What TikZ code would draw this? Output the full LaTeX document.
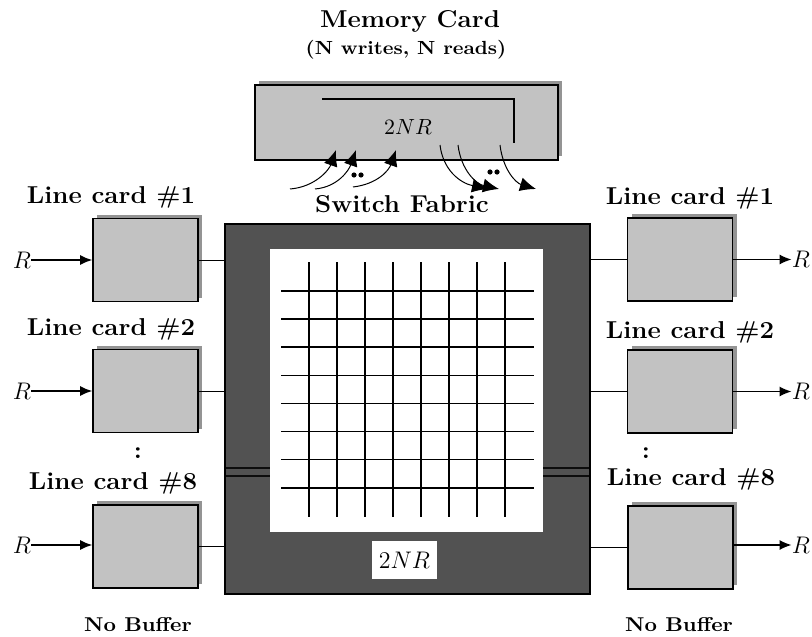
\documentclass[tikz,border=0pt]{standalone}
\usetikzlibrary{arrows.meta,shadows}
\begin{document}
\begin{tikzpicture}[x=0.5pt,y=-0.5pt,
  lbl/.style={font=\bfseries\fontsize{12.2}{14}\selectfont, xscale=1.06, anchor=base, inner sep=0pt},
  sml/.style={font=\bfseries\fontsize{9.5}{11}\selectfont, xscale=1.07, anchor=base, inner sep=0pt},
  nob/.style={font=\bfseries\fontsize{10}{12}\selectfont, xscale=1.08, anchor=base, inner sep=0pt},
  rlab/.style={font=\fontsize{12.5}{14}\selectfont, inner sep=0pt},
  card/.style={draw=black, line width=0.8pt, fill=black!24, minimum width=52.5pt, minimum height=41.5pt, inner sep=0pt,
    general shadow={fill=black!42, shadow xshift=2pt, shadow yshift=2pt}},
  conn/.style={line width=0.5pt},
  inarr/.style={line width=0.7pt, -{Latex[length=6pt,width=5pt]}},
  memarr/.style={line width=0.5pt, -{Latex[length=8pt,width=7pt]}},
  gridline/.style={line width=0.8pt},
  dotmark/.style={fill=black, draw=none}
]
\useasboundingbox (0,0) rectangle (812,636);

% ---------- switch fabric ----------
\node[draw=black, line width=0.6pt, fill=black!68, minimum width=182.5pt, minimum height=185pt, inner sep=0pt] (fab) at (407.5,409) {};
\node[fill=white, minimum width=136.5pt, minimum height=141.5pt, inner sep=0pt] (core) at (406.5,390.5) {};
\foreach \i in {0,...,7} {
  \draw[gridline] ({309+28*\i},262) -- ({309+28*\i},517);
  \draw[gridline] (281,{291+28.1*\i}) -- (534,{291+28.1*\i});
}
\foreach \yy in {468,476} {
  \draw[black!95, line width=0.6pt] (226,\yy) -- (270,\yy);
  \draw[black!95, line width=0.6pt] (543,\yy) -- (589,\yy);
}
\node[fill=white, minimum width=32.5pt, minimum height=19pt, font=\fontsize{11.5}{13}\selectfont, inner sep=0pt] (fabrate) at (404.5,560) {$2NR$};
\node[lbl] (fablbl) at (402,213) {Switch Fabric};

% ---------- memory card ----------
\node[lbl] (memlbl) at (410,28) {Memory Card};
\node[sml] (memsub) at (406,55) {(N writes, N reads)};
\node[card, minimum width=151.5pt, minimum height=37.5pt] (mem) at (406.5,122.5) {};
\draw[line width=1pt] (322,99) -- (514,99) -- (514,143);
\node[rlab, font=\fontsize{11}{13}\selectfont] (memrate) at (408,127) {$2NR$};

\coordinate (w1s) at (290,189); \coordinate (w1e) at (336,150);
\coordinate (w2s) at (315,189); \coordinate (w2e) at (356,150);
\coordinate (w3s) at (353,187); \coordinate (w3e) at (396,150);
\draw[memarr] (w1s) .. controls (315,187) and (329,170) .. (w1e);
\draw[memarr] (w2s) .. controls (338,187) and (349,170) .. (w2e);
\draw[memarr] (w3s) .. controls (378,184) and (389,170) .. (w3e);
\coordinate (r1s) at (440,145); \coordinate (r1e) at (488,189);
\coordinate (r2s) at (458,145); \coordinate (r2e) at (499,189);
\coordinate (r3s) at (500,145); \coordinate (r3e) at (536,189);
\draw[memarr] (r1s) .. controls (443,170) and (460,183) .. (r1e);
\draw[memarr] (r2s) .. controls (461,170) and (476,184) .. (r2e);
\draw[memarr] (r3s) .. controls (503,170) and (516,183) .. (r3e);
\fill[dotmark] (354,175) circle (1.3pt) (361,175) circle (1.3pt);
\fill[dotmark] (490,172) circle (1.3pt) (497,172) circle (1.3pt);

% ---------- left line cards ----------
\node[lbl] (ll1) at (111,204) {Line card \#1};
\node[lbl] (ll2) at (111,335) {Line card \#2};
\node[lbl] (ll8) at (113,489) {Line card \#8};
\node[lbl] (lcolon) at (138,458) {:};
\node[card] (lc1) at (145.5,260) {};
\node[card] (lc2) at (145.5,391) {};
\node[card] (lc8) at (145.5,546.5) {};
\node[rlab] (rin1) at (22,260) {$R$};
\node[rlab] (rin2) at (22,391) {$R$};
\node[rlab] (rin8) at (22,545) {$R$};
\foreach \k in {1,2,8} {
  \draw[inarr] (rin\k.east) -- (rin\k.east -| lc\k.west);
}
\draw[conn] (lc1.east) -- (lc1.east -| fab.west);
\draw[conn] (lc2.east) -- (lc2.east -| fab.west);
\draw[conn] (lc8.east) -- (lc8.east -| fab.west);
\node[nob] (lnb) at (138,631) {No Buffer};

% ---------- right line cards ----------
\node[lbl] (rl1) at (690,205) {Line card \#1};
\node[lbl] (rl2) at (690,338) {Line card \#2};
\node[lbl] (rl8) at (691,485) {Line card \#8};
\node[lbl] (rcolon) at (646,458) {:};
\node[card] (rc1) at (680,259.5) {};
\node[card] (rc2) at (680,391.5) {};
\node[card] (rc8) at (680.5,547.5) {};
\node[rlab] (rout1) at (801,259.5) {$R$};
\node[rlab] (rout2) at (801,391.5) {$R$};
\node[rlab] (rout8) at (801,545) {$R$};
\foreach \k in {1,2,8} {
  \draw[inarr] (rout\k.west -| rc\k.east) -- (rout\k.west);
  \draw[conn] (rc\k.west) -- (rc\k.west -| fab.east);
}
\node[nob] (rnb) at (679,631) {No Buffer};
\end{tikzpicture}
\end{document}
